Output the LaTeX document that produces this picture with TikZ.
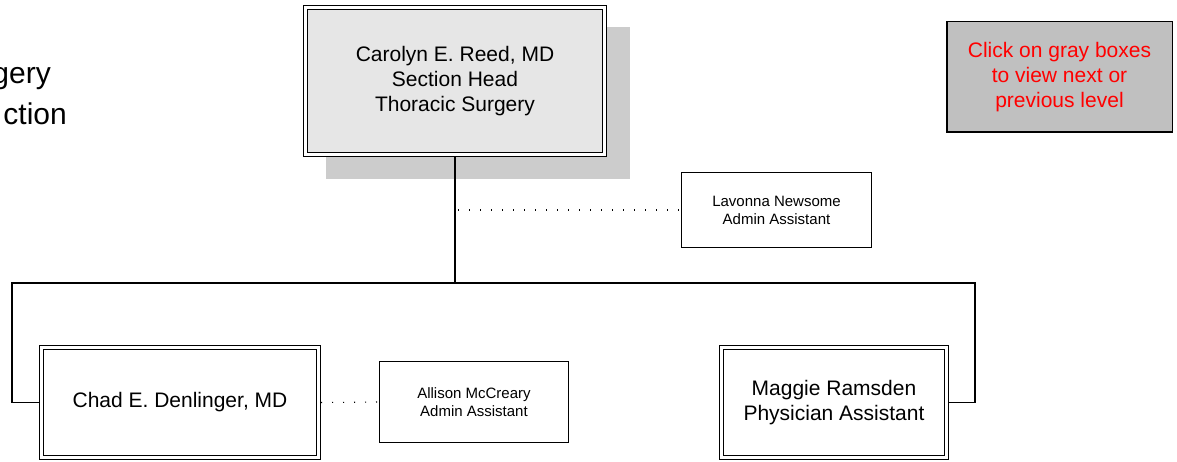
\documentclass[tikz,border=0pt]{standalone}
\usepackage{fontspec}
\setmainfont{Liberation Sans}
\usetikzlibrary{backgrounds}
\definecolor{headfill}{HTML}{E6E6E6}
\definecolor{shadowgray}{HTML}{CCCCCC}
\definecolor{notefill}{HTML}{C0C0C0}
\begin{document}
\begin{tikzpicture}[x=1pt,y=-1pt,
    every node/.style={font=\fontsize{21}{25}\selectfont,align=center,inner sep=0pt},
    person/.style={draw,line width=1.2pt,double=white,double distance=3pt,outer sep=2.7pt},
    assist/.style={draw,line width=1.3pt,font=\fontsize{15}{18}\selectfont,outer sep=.65pt},
    bigtext/.style={anchor=base east,font=\fontsize{30}{36}\selectfont},
    link/.style={line width=1.3pt},
    dotlink/.style={line width=1.1pt,dash pattern=on 1.1pt off 9.9pt}]
    % Organigrama de la sección: jefa, asistentes y equipo.
    \useasboundingbox (0,0) rectangle (1177,462);
    \node[bigtext] (titleA) at (51,84) {gery};
    \node[bigtext] (titleB) at (67,125) {ction};

    \node[person,fill=headfill,minimum width=298.6pt,minimum height=146.6pt] (reed) at (455,81)
        {Carolyn E. Reed, MD\\Section Head\\Thoracic Surgery};
    \node[assist,minimum width=189.7pt,minimum height=74.7pt] (lavonna) at (776.5,210)
        {Lavonna Newsome\\Admin Assistant};
    \node[person,minimum width=276.6pt,minimum height=109.6pt] (chad) at (180,402.5)
        {Chad E. Denlinger, MD};
    \node[assist,minimum width=188.7pt,minimum height=80.7pt] (allison) at (474,402)
        {Allison McCreary\\Admin Assistant};
    \node[person,minimum width=224.6pt,minimum height=109.6pt] (maggie) at (834,402.5)
        {Maggie Ramsden\\Physician Assistant};
    \node[draw,line width=1.5pt,fill=notefill,text=red,minimum width=225.5pt,minimum height=110.5pt] (note) at (1059.5,77)
        {Click on gray boxes\\to view next or\\previous level};

    \begin{scope}[on background layer]
        \fill[white] (0,0) rectangle (1177,462);
        \fill[shadowgray] ([shift={(23,22)}]reed.north west) rectangle ([shift={(23,22)}]reed.south east);
    \end{scope}

    \coordinate (busL) at (12,283);
    \coordinate (busR) at (975,283);
    \coordinate (tap) at (458,210);
    \draw[link,line width=2pt] (reed.south) -- (reed.south |- busL);
    \draw[link] (chad.west) -| (busL) -- (busR) |- (maggie.east);
    \draw[dotlink] (tap) -- (lavonna.west);
    \draw[dotlink] (chad.east) -- (allison.west);
\end{tikzpicture}
\end{document}
